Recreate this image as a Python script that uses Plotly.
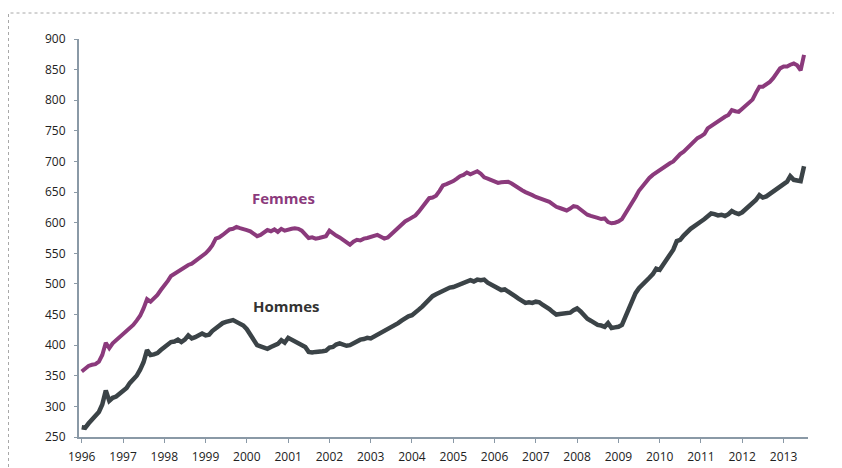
import pandas as pd
import plotly.graph_objects as go

# Monthly values, Jan 1996 .. Jul 2013
femmes = [
    357, 361, 366, 368, 369, 373, 384, 404, 395, 403, 408, 413,   # 1996
    420, 423, 428, 433, 440, 448, 460, 475, 471, 476, 482, 490,   # 1997
    497, 505, 513, 517, 521, 524, 528, 531, 533, 537, 541, 545,   # 1998
    550, 556, 563, 574, 576, 580, 584, 589, 590, 593, 591, 590,   # 1999
    588, 586, 582, 578, 580, 584, 588, 586, 589, 585, 590, 587,   # 2000
    589, 590, 591, 590, 587, 580, 575, 576, 574, 575, 577, 578,   # 2001
    587, 582, 579, 576, 572, 567, 564, 569, 572, 571, 574, 575,   # 2002
    577, 578, 580, 577, 574, 576, 581, 586, 591, 598, 602, 605,   # 2003
    608, 612, 618, 625, 633, 640, 641, 644, 652, 661, 663, 665,   # 2004
    668, 672, 676, 678, 682, 679, 682, 684, 680, 674, 672, 670,   # 2005
    667, 665, 666, 667, 667, 664, 660, 657, 653, 650, 648, 645,   # 2006
    642, 640, 638, 637, 634, 630, 626, 624, 622, 620, 623, 627,   # 2007
    626, 621, 617, 613, 611, 610, 608, 606, 607, 601, 599, 600,   # 2008
    602, 606, 614, 624, 634, 642, 652, 660, 667, 673, 678, 682,   # 2009
    685, 689, 693, 697, 700, 707, 712, 716, 722, 727, 733, 738,   # 2010
    741, 745, 754, 758, 762, 767, 769, 773, 776, 784, 782, 781,   # 2011
    786, 791, 797, 801, 812, 822, 822, 826, 830, 836, 845, 852,   # 2012
    855, 855, 858, 860, 857, 849, 874,                            # 2013
]
hommes = [
    266, 265, 272, 278, 283, 291, 303, 326, 309, 314, 316, 320,   # 1996
    324, 330, 338, 344, 350, 360, 372, 392, 384, 385, 387, 392,   # 1997
    397, 401, 405, 406, 409, 405, 409, 416, 411, 413, 416, 419,   # 1998
    416, 417, 423, 428, 431, 436, 438, 440, 441, 438, 435, 432,   # 1999
    426, 417, 408, 400, 398, 395, 394, 397, 399, 402, 408, 404,   # 2000
    412, 409, 406, 404, 400, 397, 389, 388, 389, 389, 390, 391,   # 2001
    396, 397, 401, 403, 400, 399, 400, 403, 407, 409, 410, 412,   # 2002
    411, 414, 418, 420, 424, 426, 430, 432, 436, 440, 444, 447,   # 2003
    449, 453, 458, 463, 469, 476, 480, 483, 486, 490, 492, 494,   # 2004
    495, 497, 499, 501, 504, 506, 504, 507, 506, 507, 502, 499,   # 2005
    496, 493, 490, 491, 488, 485, 480, 476, 472, 469, 470, 469,   # 2006
    471, 470, 466, 463, 459, 454, 450, 451, 452, 452, 453, 457,   # 2007
    460, 455, 448, 443, 440, 436, 433, 432, 430, 436, 428, 429,   # 2008
    430, 433, 445, 462, 475, 485, 493, 498, 503, 510, 516, 525,   # 2009
    523, 532, 540, 548, 556, 570, 572, 579, 585, 590, 594, 599,   # 2010
    602, 606, 611, 615, 614, 612, 613, 611, 614, 619, 616, 614,   # 2011
    617, 622, 626, 632, 637, 645, 641, 643, 647, 651, 654, 658,   # 2012
    661, 667, 676, 670, 669, 668, 692,                            # 2013
]
months = pd.date_range("1996-01-01", periods=len(femmes), freq="MS")
year_ticks = pd.date_range("1996-01-01", "2013-01-01", freq="YS")
year_labels = [str(d.year) for d in year_ticks]
y_ticks = list(range(250, 901, 50))

PURPLE = "#8b3a7c"
GREY = "#3b4347"
AXIS = "#8a99a6"

fig = go.Figure()
fig.add_trace(go.Scatter(x=months, y=femmes, mode="lines", name="Femmes",
                         line=dict(color=PURPLE, width=4)))
fig.add_trace(go.Scatter(x=months, y=hommes, mode="lines", name="Hommes",
                         line=dict(color=GREY, width=4.5)))

fig.add_annotation(x=pd.Timestamp("2000-11-20"), y=640, text="<b>Femmes</b>",
                   showarrow=False, font=dict(color=PURPLE, size=15))
fig.add_annotation(x=pd.Timestamp("2000-12-20"), y=464, text="<b>Hommes</b>",
                   showarrow=False, font=dict(color="#333333", size=15))

# plot area in figure pixels: x 71..800, y 31..429
PW, PH = 729, 398
fig.add_shape(type="rect", xref="paper", yref="paper",
              x0=(0.5 - 71) / PW, x1=(830 - 71) / PW,
              y0=(429 - 475) / PH, y1=(429 - 5) / PH,
              line=dict(color="#a8a8a8", width=1, dash="dot"))

fig.update_layout(
    width=842, height=468,
    margin=dict(l=71, r=42, t=31, b=39),
    paper_bgcolor="white", plot_bgcolor="white",
    showlegend=False,
    font=dict(family="Open Sans", size=12, color="#222222"),
)
fig.update_xaxes(
    range=[pd.Timestamp("1995-12-08"), pd.Timestamp("2013-08-05")],
    tickvals=year_ticks, ticktext=year_labels,
    showgrid=False, zeroline=False,
    showline=True, linecolor=AXIS, linewidth=2,
    ticks="outside", ticklen=4, tickcolor=AXIS, tickwidth=1,
    ticklabelstandoff=4,
)
fig.update_yaxes(
    range=[250, 900], tickvals=y_ticks,
    showgrid=False, zeroline=False,
    showline=True, linecolor=AXIS, linewidth=2,
    ticks="outside", ticklen=3, tickcolor=AXIS, tickwidth=1,
    ticklabelstandoff=6,
)

fig.write_html("out.html")
